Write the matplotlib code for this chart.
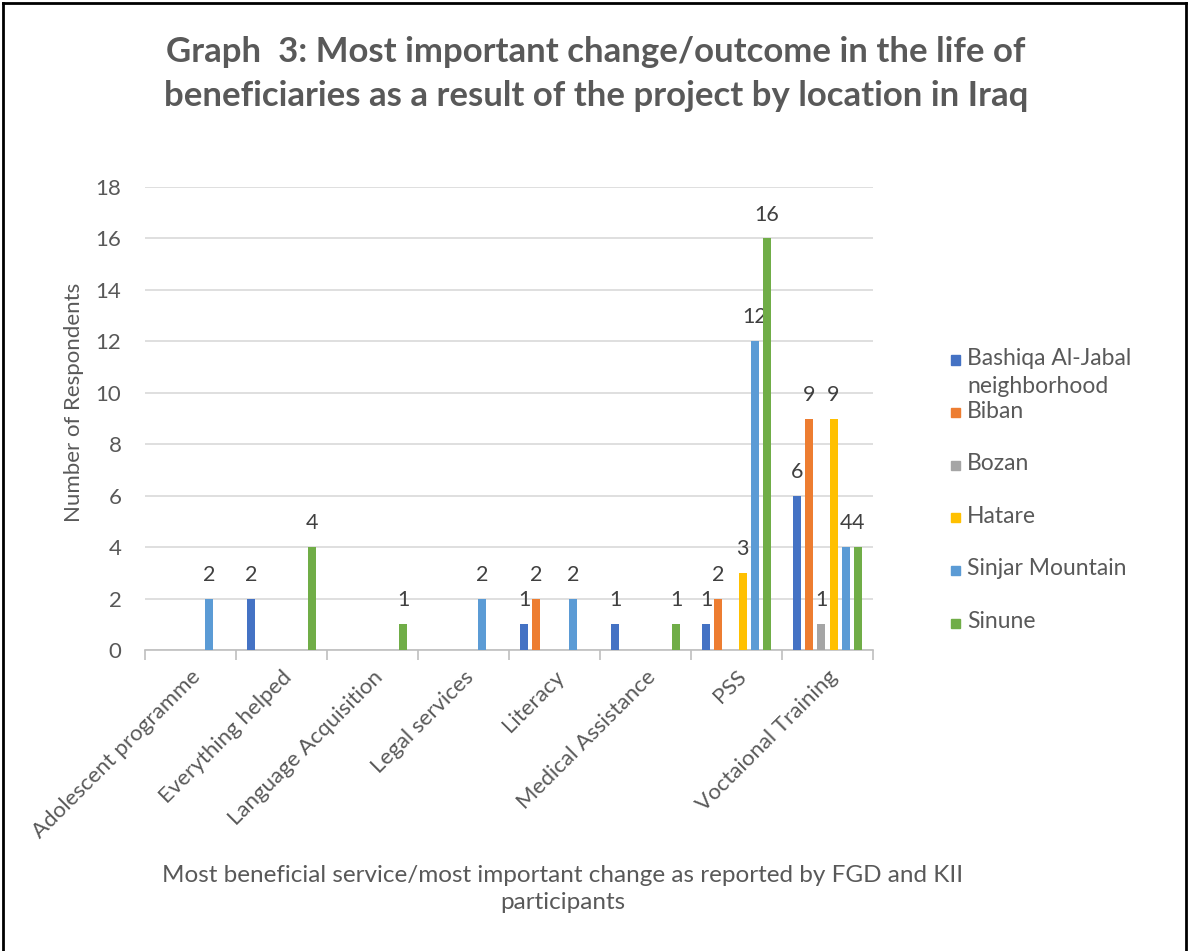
import numpy as np
import matplotlib
matplotlib.use("Agg")
import matplotlib.pyplot as plt
from matplotlib.patches import Rectangle
from matplotlib.lines import Line2D

# -----------------------------
# Graph 3: most important change by location (Iraq)
# -----------------------------

categories = ["Adolescent programme", "Everything helped", "Language Acquisition",
              "Legal services", "Literacy", "Medical Assistance", "PSS",
              "Voctaional Training"]

locations = ["Bashiqa Al-Jabal\nneighborhood", "Biban", "Bozan", "Hatare",
             "Sinjar Mountain", "Sinune"]
colors = ["#4472C4", "#ED7D31", "#A5A5A5", "#FFC000", "#5B9BD5", "#70AD47"]

nan = np.nan
bashiqa = [nan, 2, nan, nan, 1, 1, 1, 6]
biban = [nan, nan, nan, nan, 2, nan, 2, 9]
bozan = [nan, nan, nan, nan, nan, nan, nan, 1]
hatare = [nan, nan, nan, nan, nan, nan, 3, 9]
sinjar = [2, nan, nan, 2, 2, nan, 12, 4]
sinune = [nan, 4, 1, nan, nan, 1, 16, 4]
series = [bashiqa, biban, bozan, hatare, sinjar, sinune]

yticks = list(range(0, 19, 2))

plt.rcParams["font.family"] = ["Lato", "DejaVu Sans"]
TXT = "#595959"

W, H = 1189, 951
fig = plt.figure(figsize=(W / 100, H / 100), dpi=100)
ax = fig.add_axes([145 / W, 1 - 650 / H, (873 - 145) / W, (650 - 187) / H])

x = np.arange(len(categories))
slot = 0.134
bw = 0.088
for i, (vals, col) in enumerate(zip(series, colors)):
    pos = x + (i - 2.5) * slot
    ax.bar(pos, vals, width=bw, color=col, zorder=3)
    for p, v in zip(pos, vals):
        if not np.isnan(v):
            ax.annotate(f"{int(v)}", (p, v), xytext=(0, 10), textcoords="offset points",
                        ha="center", va="bottom", fontsize=15.5, color="#404040")

ax.set_xlim(-0.5, len(categories) - 0.5)
ax.set_ylim(0, 18)
ax.set_yticks(yticks)
ax.yaxis.grid(True, color="#D9D9D9", linewidth=1.2, zorder=0)
ax.tick_params(axis="y", length=0, labelsize=16, labelcolor=TXT, pad=17)

# category boundaries as ticks, labels at centres
ax.set_xticks(np.arange(len(categories) + 1) - 0.5)
ax.set_xticklabels([])
ax.tick_params(axis="x", which="major", length=7, color="#BFBFBF", width=1.2)
ax.set_xticks(x, minor=True)
ax.set_xticklabels(categories, minor=True, rotation=45, ha="right",
                   rotation_mode="anchor", fontsize=16, color=TXT)
ax.tick_params(axis="x", which="minor", length=0, pad=12)

for s in ["top", "right", "left"]:
    ax.spines[s].set_visible(False)
ax.spines["bottom"].set_color("#BFBFBF")
ax.spines["bottom"].set_linewidth(1.2)

fig.text(74 / W, 1 - 402 / H, "Number of Respondents", rotation=90,
         ha="center", va="center", fontsize=16, color=TXT)

fig.text(563 / W, 1 - 889 / H,
         "Most beneficial service/most important change as reported by FGD and KII\nparticipants",
         ha="center", va="center", fontsize=17.5, color=TXT, linespacing=1.3)

fig.text(596 / W, 1 - 74 / H,
         "Graph  3: Most important change/outcome in the life of\n"
         "beneficiaries as a result of the project by location in Iraq",
         ha="center", va="center", fontsize=25, fontweight="bold", color=TXT,
         linespacing=1.45)

# legend, built by hand so the two-line entry keeps its marker on the first line
leg_top = 360
leg_step = 52.6
for i, (lab, col) in enumerate(zip(locations, colors)):
    yc = leg_top + i * leg_step
    fig.patches.append(Rectangle((951 / W, 1 - (yc + 4.5) / H), 9 / W, 9 / H,
                                 transform=fig.transFigure, color=col))
    fig.text(967 / W, 1 - (yc - 12) / H, lab, ha="left", va="top",
             fontsize=16.5, color=TXT, linespacing=1.42)

# outer frame
for xs, ys in [([3, 3], [3, H + 5]), ([3, 1186], [3, 3]), ([1186, 1186], [3, H + 5])]:
    fig.add_artist(Line2D([v / W for v in xs], [1 - v / H for v in ys],
                          transform=fig.transFigure, color="black", linewidth=2))

fig.savefig("out.png", dpi=100, facecolor="white")
